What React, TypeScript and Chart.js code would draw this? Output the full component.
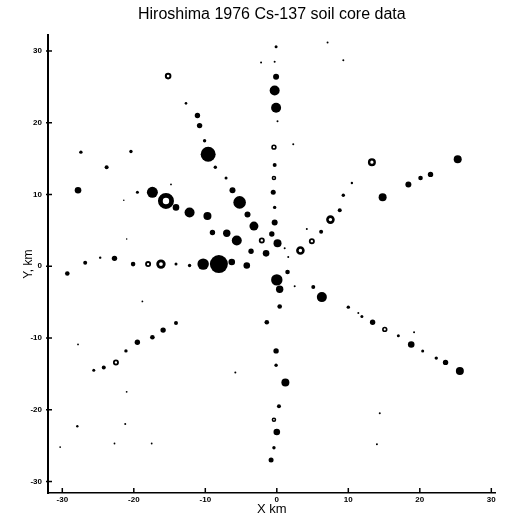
import { useEffect, useRef } from 'react';
import { Chart, registerables } from 'chart.js';

Chart.register(...registerables);

const TITLE = 'Hiroshima 1976 Cs-137 soil core data';
const X_TITLE = 'X km';
const Y_TITLE = 'Y, km';
const tickValues = [-30, -20, -10, 0, 10, 20, 30];

// Solid (filled) sample points: x km, y km, relative magnitude (bubble radius)
const solidX = [
  -0.1, 7.1, -2.2, -0.3, 9.3, -0.1, -0.3, -0.1, 0.1, 2.3, -0.3, -0.5, -0.3, -0.3,
  -12.7, -11.1, -10.8, -10.1, -9.6, -8.6, -7.1, -6.2, -5.2, -4.1, -3.2,
  -20.4, -14.8, -19.5, -17.4, -14.1, -12.2, -9.7, -9.0, -7.0, -5.6, -3.6, -1.5, -0.7, 0.1,
  1.1, 1.6, 4.2, 6.2, 8.8, 9.3, 10.5, 14.8, 18.4, 20.1, 21.5, 25.3,
  -29.3, -26.8, -24.7, -22.7, -20.1, -14.1, -12.2, -10.3, -8.1, -6.3, -4.2,
  -27.4, -23.8, -27.8, -21.4, -21.0,
  1.5, 0.0, 0.4, 2.5, 5.1, 6.3, 0.4, -1.4,
  10.0, 11.4, 11.9, 13.4, 17.0, 19.2, 18.8, 20.4, 22.3, 23.6, 25.6,
  -0.1, -0.1, 1.2, 0.3, 0.0, -0.4, -0.8, -5.8, 14.4, 14.0,
  -14.1, -15.9, -17.4, -19.5, -18.8, -21.1, -24.2, -25.6, -27.8, -21.0, -27.9, -21.2, -30.3, -22.7, -17.5,
];
const solidY = [
  30.6, 31.2, 28.4, 28.5, 28.7, 26.4, 24.5, 22.1, 20.2, 17.0, 14.1, 10.3, 8.2, 6.1,
  22.7, 21.0, 19.6, 17.5, 15.6, 13.8, 12.3, 10.6, 8.9, 7.2, 5.6,
  16.0, 11.4, 10.3, 10.3, 8.2, 7.5, 7.0, 4.7, 4.6, 3.6, 2.1, 1.8, 4.5, 3.2,
  2.5, 1.3, 5.2, 4.8, 7.8, 9.9, 11.6, 9.6, 11.4, 12.3, 12.8, 14.9,
  -1.0, 0.5, 1.2, 1.1, 0.3, 0.3, 0.1, 0.3, 0.3, 0.6, 0.1,
  15.9, 13.8, 10.6, 9.2, 3.8,
  -0.8, -1.9, -3.2, -2.8, -2.9, -4.3, -5.6, -7.8,
  -5.7, -6.5, -7.0, -7.8, -9.7, -9.2, -10.9, -11.8, -12.8, -13.4, -14.6,
  -11.8, -13.8, -16.2, -19.5, -23.1, -25.3, -27.0, -14.8, -20.5, -24.8,
  -7.9, -8.9, -9.9, -10.6, -4.9, -11.8, -14.1, -14.5, -10.9, -17.5, -22.3, -22.0, -25.2, -24.7, -24.7,
];
const solidSize = [
  1.5, 1.0, 1.0, 1.0, 1.0, 3.0, 5.0, 5.0, 1.0, 1.0, 2.0, 2.5, 1.7, 3.0,
  1.3, 2.7, 2.7, 1.7, 7.5, 1.7, 1.5, 3.0, 6.3, 3.0, 4.5,
  1.7, 0.9, 1.5, 5.5, 3.3, 5.0, 4.0, 2.7, 3.7, 5.0, 2.7, 3.3, 2.7, 4.0,
  1.0, 1.0, 1.0, 2.0, 2.0, 1.7, 1.2, 4.0, 3.0, 2.3, 2.7, 4.0,
  2.3, 2.0, 1.2, 2.7, 2.3, 1.5, 1.7, 5.7, 9.0, 3.3, 3.3,
  1.7, 2.0, 3.3, 0.8, 0.8,
  2.3, 5.7, 3.7, 1.0, 2.0, 5.0, 2.3, 2.3,
  1.7, 1.0, 1.5, 2.7, 1.5, 1.0, 3.3, 1.5, 1.7, 2.7, 4.0,
  2.7, 1.7, 4.0, 2.0, 3.3, 1.7, 2.5, 1.0, 1.0, 1.0,
  2.0, 2.7, 2.3, 2.7, 0.9, 1.7, 2.0, 1.5, 0.9, 0.9, 1.2, 1.0, 0.9, 0.9, 0.9,
];

// Open (ring) sample points
const ringX = [-0.4, -0.4, -15.2, -15.5, -2.1, 3.3, 4.9, 7.5, 13.3, -18.0, -16.2, 15.1, -0.4, -22.5];
const ringY = [16.6, 12.3, 26.5, 9.1, 3.6, 2.2, 3.5, 6.5, 14.5, 0.3, 0.3, -8.8, -21.4, -13.4];
const ringSize = [2.7, 2.3, 3.3, 8.0, 3.0, 4.3, 3.0, 4.3, 4.0, 3.0, 4.7, 2.7, 2.3, 3.0];

const ringWidth = (s: number) => Math.max(1.5, s * 0.6);

const inwardTicks = {
  id: 'inwardTicks',
  afterDatasetsDraw(chart: any) {
    const { ctx, chartArea } = chart;
    const xs = chart.scales.x;
    const ys = chart.scales.y;
    ctx.save();
    ctx.strokeStyle = '#000';
    ctx.lineWidth = 1.5;
    for (const v of tickValues) {
      const px = xs.getPixelForValue(v);
      ctx.beginPath();
      ctx.moveTo(px, chartArea.bottom);
      ctx.lineTo(px, chartArea.bottom - 5);
      ctx.stroke();
      const py = ys.getPixelForValue(v);
      ctx.beginPath();
      ctx.moveTo(chartArea.left - 2, py);
      ctx.lineTo(chartArea.left + 4, py);
      ctx.stroke();
    }
    ctx.restore();
  },
};

export default function App() {
  const ref = useRef<HTMLCanvasElement | null>(null);
  useEffect(() => {
    if (!ref.current) return;
    Chart.defaults.color = '#000';
    Chart.defaults.font.family = '"Liberation Sans", Arial, sans-serif';
    const solidData = solidX.map((x, i) => ({ x, y: solidY[i], r: solidSize[i] }));
    const ringData = ringX.map((x, i) => ({ x, y: ringY[i], r: ringSize[i] - ringWidth(ringSize[i]) / 2 }));
    const chart = new Chart(ref.current, {
      type: 'bubble',
      data: {
        datasets: [
          {
            label: 'solid',
            data: solidData,
            backgroundColor: '#000',
            borderColor: '#000',
            borderWidth: 0,
          },
          {
            label: 'ring',
            data: ringData,
            backgroundColor: '#fff',
            borderColor: '#000',
            borderWidth: ringSize.map((s) => ringWidth(s)),
          },
        ],
      },
      options: {
        responsive: false,
        animation: false,
        events: [],
        layout: { padding: { left: 0, right: 1, top: 0, bottom: 0 } },
        plugins: {
          legend: { display: false },
          tooltip: { enabled: false },
          title: {
            display: true,
            text: TITLE,
            fullSize: false,
            color: '#000',
            font: { size: 16, weight: 'normal', family: '"Liberation Sans", Arial, sans-serif' },
            padding: { top: 5, bottom: 11 },
          },
        },
        scales: {
          x: {
            type: 'linear',
            min: -32,
            max: 30.6,
            afterBuildTicks: (s: any) => { s.ticks = tickValues.map((v) => ({ value: v })); },
            afterFit: (s: any) => { s.height = 24; s.paddingLeft = 0; s.paddingRight = 0; },
            grid: { display: false, drawTicks: false },
            border: { display: true, color: '#000', width: 1.5 },
            ticks: {
              autoSkip: false,
              includeBounds: false,
              padding: 2,
              maxRotation: 0,
              font: { size: 8, weight: 'bold' },
              color: '#000',
            },
            title: {
              display: true,
              text: X_TITLE,
              color: '#000',
              font: { size: 13 },
              padding: { top: 0, bottom: 0 },
            },
          },
          y: {
            type: 'linear',
            min: -31.6,
            max: 32.2,
            afterBuildTicks: (s: any) => { s.ticks = tickValues.map((v) => ({ value: v })); },
            afterFit: (s: any) => { s.width = 48; s.paddingTop = 0; s.paddingBottom = 0; },
            grid: { display: false, drawTicks: false },
            border: { display: true, color: '#000', width: 2 },
            ticks: {
              autoSkip: false,
              includeBounds: false,
              padding: 6,
              font: { size: 8, weight: 'bold' },
              color: '#000',
            },
            title: {
              display: true,
              text: Y_TITLE,
              color: '#000',
              font: { size: 12 },
              padding: { top: 21, bottom: 0 },
            },
          },
        },
      } as any,
      plugins: [inwardTicks],
    });
    return () => chart.destroy();
  }, []);
  return (
    <div style={{ position: 'fixed', left: 0, top: 0, width: 506, height: 517, background: '#fff' }}>
      <canvas ref={ref} width={506} height={517} style={{ display: 'block' }} />
    </div>
  );
}
